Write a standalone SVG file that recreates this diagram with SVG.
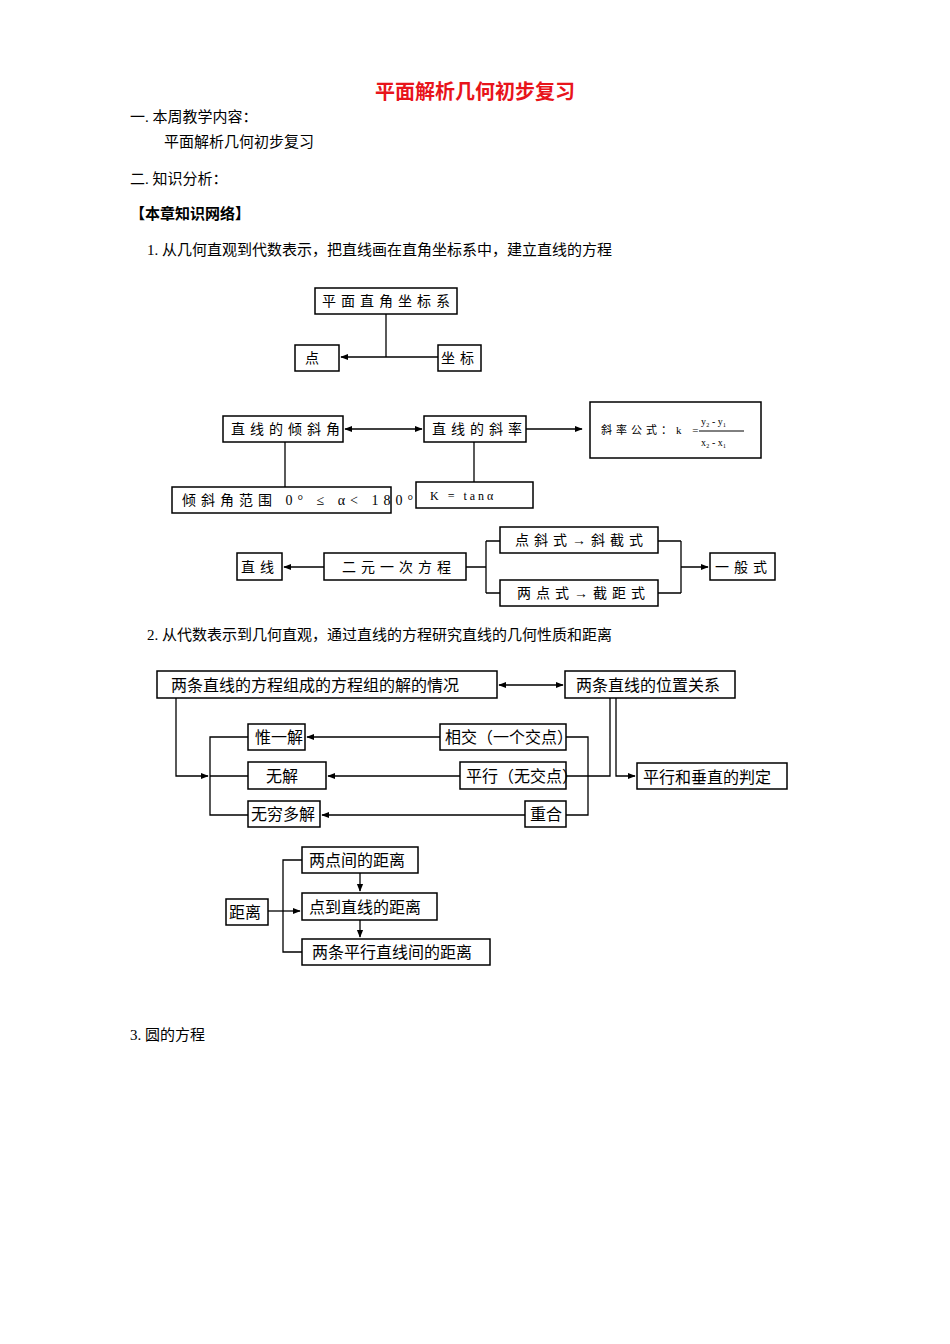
<svg xmlns="http://www.w3.org/2000/svg" width="950" height="1344" viewBox="0 0 950 1344">
<defs>
<style>
text{font-family:"Liberation Serif","Noto Sans CJK SC",serif;fill:#000}
.b{font-size:15px}
.n rect{fill:#fff;stroke:#000;stroke-width:1.5}
.n text{font-size:14px}
.s{letter-spacing:5px;font-size:13px}
.c path{fill:none;stroke:#000;stroke-width:1.3}
</style>
<marker id="a" viewBox="0 0 10 10" refX="9" refY="5" markerWidth="6" markerHeight="6" orient="auto-start-reverse"><path d="M0,1 L10,5 L0,9z" fill="#000"/></marker>
</defs>
<rect width="950" height="1344" fill="#fff"/>
<text x="475" y="99" text-anchor="middle" style="font-size:20px;font-weight:bold;fill:#e8141b">平面解析几何初步复习</text>
<text class="b" x="130" y="122">一.  本周教学内容：</text>
<text class="b" x="164" y="147">平面解析几何初步复习</text>
<text class="b" x="130" y="184">二.  知识分析：</text>
<text class="b" x="130" y="219" style="font-weight:bold">【本章知识网络】</text>
<text class="b" x="147" y="255">1.  从几何直观到代数表示，把直线画在直角坐标系中，建立直线的方程</text>
<text class="b" x="147" y="640">2.  从代数表示到几何直观，通过直线的方程研究直线的几何性质和距离</text>
<text class="b" x="130" y="1040">3.  圆的方程</text>

<g class="c">
<path d="M386,314 V357"/>
<path d="M438,357 H341" marker-end="url(#a)"/>
<path d="M345,429 H422" marker-start="url(#a)" marker-end="url(#a)"/>
<path d="M526,429 H582" marker-end="url(#a)"/>
<path d="M285,442 V487"/>
<path d="M474,442 V482"/>
<path d="M324,567 H284" marker-end="url(#a)"/>
<path d="M466,567 H486 M486,541 V593 M486,541 H500 M486,593 H500"/>
<path d="M658,541 H681 M658,593 H681 M681,541 V593 M681,567 H708" marker-end="url(#a)"/>
<path d="M499,685 H563" marker-start="url(#a)" marker-end="url(#a)"/>
<path d="M176,698 V776 H208" marker-end="url(#a)"/>
<path d="M248,737 H210 V815 H248 M210,776 H248"/>
<path d="M440,737 H307" marker-end="url(#a)"/>
<path d="M460,776 H328" marker-end="url(#a)"/>
<path d="M525,815 H322" marker-end="url(#a)"/>
<path d="M566,737 H588 V815 H566 M566,776 H610 V698"/>
<path d="M616,698 V776 H635" marker-end="url(#a)"/>
<path d="M268,911 H300" marker-end="url(#a)"/>
<path d="M302,860 H283 V952 H302"/>
<path d="M360,873 V891" marker-end="url(#a)"/>
<path d="M360,920 V937" marker-end="url(#a)"/>
</g>

<g class="n">
<g id="n1"><rect x="315" y="288" width="142" height="26"/><text class="s" x="322" y="306">平面直角坐标系</text></g>
<g id="n2"><rect x="295" y="345" width="44" height="26"/><text class="s" x="305" y="363">点</text></g>
<g id="n3"><rect x="438" y="345" width="43" height="26"/><text class="s" x="441" y="363">坐标</text></g>
<g id="n4"><rect x="223" y="416" width="120" height="26"/><text class="s" x="231" y="434">直线的倾斜角</text></g>
<g id="n5"><rect x="424" y="416" width="102" height="26"/><text class="s" x="432" y="434">直线的斜率</text></g>
<g id="n6"><rect x="590" y="402" width="171" height="56"/><text class="s" x="601" y="434" style="font-size:11px;letter-spacing:4px">斜率公式：k =</text>
<text x="701" y="425" style="font-size:10px">y₂ - y₁</text><path d="M699,431 H744" stroke="#000"/><text x="701" y="446" style="font-size:10px">x₂ - x₁</text></g>
<g id="n7"><rect x="172" y="487" width="219" height="26"/><text class="s" x="182" y="505">倾斜角范围 0° ≤ α&lt; 180°</text></g>
<g id="n8"><rect x="416" y="482" width="117" height="26"/><text class="s" x="430" y="500" style="font-size:12px;letter-spacing:3px">K = tanα</text></g>
<g id="n9"><rect x="237" y="553" width="45" height="27"/><text class="s" x="241" y="572">直线</text></g>
<g id="n10"><rect x="324" y="553" width="142" height="27"/><text class="s" x="342" y="572">二元一次方程</text></g>
<g id="n11"><rect x="500" y="527" width="158" height="26"/><text class="s" x="515" y="545">点斜式→斜截式</text></g>
<g id="n12"><rect x="500" y="580" width="158" height="26"/><text class="s" x="517" y="598">两点式→截距式</text></g>
<g id="n13"><rect x="710" y="553" width="65" height="27"/><text class="s" x="715" y="572">一般式</text></g>

<g id="m1"><rect x="157" y="671" width="340" height="27"/><text x="171" y="691" style="font-size:16px">两条直线的方程组成的方程组的解的情况</text></g>
<g id="m2"><rect x="565" y="671" width="170" height="27"/><text x="576" y="691" style="font-size:16px">两条直线的位置关系</text></g>
<g id="m3"><rect x="248" y="724" width="57" height="26"/><text x="255" y="743" style="font-size:16px">惟一解</text></g>
<g id="m4"><rect x="248" y="762" width="78" height="27"/><text x="266" y="782" style="font-size:16px">无解</text></g>
<g id="m5"><rect x="248" y="801" width="72" height="26"/><text x="251" y="820" style="font-size:16px">无穷多解</text></g>
<g id="m6"><rect x="440" y="724" width="126" height="26"/><text x="445" y="743" style="font-size:16px">相交（一个交点）</text></g>
<g id="m7"><rect x="460" y="762" width="106" height="27"/><text x="466" y="782" style="font-size:16px">平行（无交点）</text></g>
<g id="m8"><rect x="525" y="801" width="41" height="26"/><text x="530" y="820" style="font-size:16px">重合</text></g>
<g id="m9"><rect x="637" y="763" width="150" height="26"/><text x="643" y="783" style="font-size:16px">平行和垂直的判定</text></g>
<g id="d1"><rect x="226" y="899" width="42" height="26"/><text x="229" y="918" style="font-size:16px">距离</text></g>
<g id="d2"><rect x="302" y="847" width="116" height="26"/><text x="309" y="866" style="font-size:16px">两点间的距离</text></g>
<g id="d3"><rect x="302" y="893" width="135" height="27"/><text x="309" y="913" style="font-size:16px">点到直线的距离</text></g>
<g id="d4"><rect x="302" y="939" width="188" height="26"/><text x="312" y="958" style="font-size:16px">两条平行直线间的距离</text></g>
</g>
</svg>
